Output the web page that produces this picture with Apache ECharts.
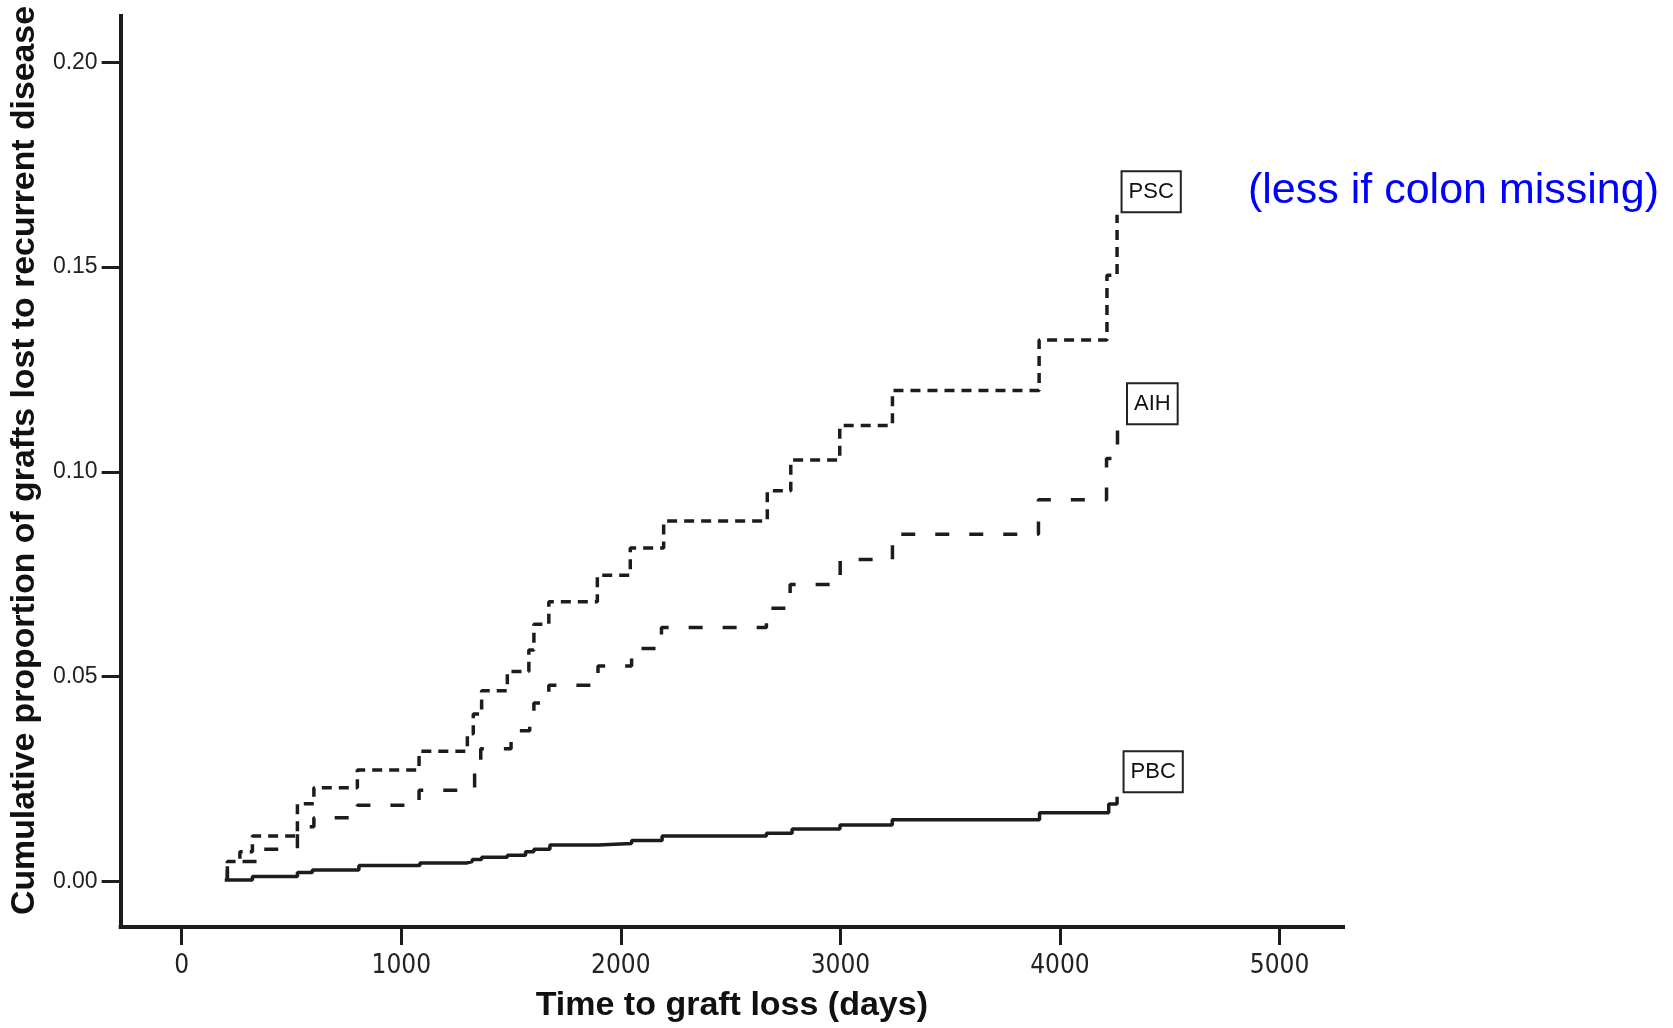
<!DOCTYPE html>
<html>
<head>
<meta charset="utf-8">
<script src="https://cdn.jsdelivr.net/npm/echarts@6/dist/echarts.min.js"></script>
<style>
  html, body { margin: 0; padding: 0; background: #ffffff; }
  #chart { width: 1673px; height: 1028px; }
</style>
</head>
<body>
<div id="chart"></div>
<script>
// Tick positions
const xTicks = [0, 1000, 2000, 3000, 4000, 5000];
const yTicks = [0, 0.05, 0.10, 0.15, 0.20];

// Cumulative proportion of grafts lost, [days, proportion] at each event
const pscData = [
  [208, 0.0003], [208, 0.0049], [265, 0.0073], [322, 0.0111], [527, 0.0190],
  [602, 0.0229], [800, 0.0272], [1081, 0.0318], [1301, 0.0361], [1328, 0.0409],
  [1366, 0.0466], [1483, 0.0513], [1581, 0.0565], [1604, 0.0628], [1672, 0.0683],
  [1893, 0.0748], [2043, 0.0814], [2195, 0.0880], [2667, 0.0954], [2774, 0.1029],
  [2997, 0.1113], [3237, 0.1199], [3905, 0.1322], [4214, 0.1480], [4260, 0.1628]
];
const aihData = [
  [208, 0.0003], [208, 0.0049], [345, 0.0079], [527, 0.0134], [602, 0.0156],
  [800, 0.0186], [1081, 0.0223], [1334, 0.0272], [1362, 0.0324], [1500, 0.0368],
  [1585, 0.0384], [1604, 0.0436], [1672, 0.0479], [1896, 0.0526], [2049, 0.0569],
  [2185, 0.0620], [2663, 0.0667], [2771, 0.0725], [2999, 0.0786], [3237, 0.0848],
  [3902, 0.0932], [4212, 0.1033], [4262, 0.1110]
];
const pbcData = [
  [196, 0.0004], [322, 0.0012], [527, 0.0022], [595, 0.0028], [807, 0.0039],
  [1085, 0.0045], [1296, 0.0049], [1323, 0.0054], [1366, 0.0059], [1483, 0.0064],
  [1566, 0.0073], [1604, 0.0079], [1677, 0.0089], [1897, 0.0093], [2049, 0.0100],
  [2188, 0.0111], [2663, 0.0118], [2780, 0.0128], [2998, 0.0138], [3236, 0.0151],
  [3907, 0.0168], [4222, 0.0189], [4260, 0.0207]
];

const groupNames = ['PSC', 'AIH', 'PBC'];
const xTitle = 'Time to graft loss (days)';
const yTitle = 'Cumulative proportion of grafts lost to recurrent disease';
const noteText = '(less if colon missing)';

const INK = '#1c1c1c';
const SANS = '"Liberation Sans", Arial, Helvetica, sans-serif';
const NARROW = '"Liberation Sans Narrow", "DejaVu Sans Condensed", "Liberation Sans", sans-serif';

function endTag(name, data, dx, dy) {
  const last = data[data.length - 1];
  return {
    symbol: 'rect',
    symbolSize: 1,
    silent: true,
    itemStyle: { color: 'rgba(0,0,0,0)' },
    label: {
      show: true,
      formatter: name,
      position: [dx, dy],
      align: 'left',
      verticalAlign: 'bottom',
      fontFamily: SANS,
      fontSize: 22,
      color: '#111',
      backgroundColor: '#ffffff',
      borderColor: '#222',
      borderWidth: 2,
      padding: [9, 6, 8, 6]
    },
    data: [{ coord: [last[0], last[1]] }]
  };
}

function stepSeries(name, data, dash, tag) {
  return {
    name: name,
    type: 'line',
    step: 'end',
    data: data,
    showSymbol: false,
    symbol: 'none',
    lineStyle: { color: INK, width: 3.5, type: dash, cap: 'butt' },
    markPoint: tag,
    z: 3
  };
}

const chart = echarts.init(document.getElementById('chart'), null, { renderer: 'canvas' });

chart.setOption({
  animation: false,
  backgroundColor: '#ffffff',
  textStyle: { fontFamily: SANS },
  grid: { left: 120, right: 330, top: 16, bottom: 97.5, containLabel: false },
  xAxis: {
    type: 'value',
    min: -278,
    max: 5289,
    name: xTitle,
    nameLocation: 'middle',
    nameGap: 62,
    nameTextStyle: { fontFamily: SANS, fontWeight: 'bold', fontSize: 34, color: '#111' },
    axisLine: { show: true, onZero: false, lineStyle: { color: INK, width: 4, cap: 'square' } },
    axisTick: { show: true, length: 18, customValues: xTicks, lineStyle: { color: INK, width: 3 } },
    axisLabel: {
      customValues: xTicks,
      margin: 26,
      fontFamily: NARROW,
      fontSize: 26,
      color: '#222',
      formatter: v => String(v)
    },
    splitLine: { show: false }
  },
  yAxis: {
    type: 'value',
    min: -0.0111,
    max: 0.2113,
    name: yTitle,
    nameLocation: 'middle',
    nameGap: 75,
    nameRotate: 90,
    nameTextStyle: {
      fontFamily: SANS, fontWeight: 'bold', fontSize: 33.8, color: '#111',
      padding: [0, 0, 0, 22]
    },
    axisLine: { show: true, onZero: false, lineStyle: { color: INK, width: 4, cap: 'square' } },
    axisTick: { show: true, length: 19, customValues: yTicks, lineStyle: { color: INK, width: 3 } },
    axisLabel: {
      customValues: yTicks,
      margin: 23,
      fontFamily: SANS,
      fontSize: 23,
      color: '#222',
      formatter: v => v.toFixed(2)
    },
    splitLine: { show: false }
  },
  series: [
    stepSeries(groupNames[0], pscData, [10, 7], endTag(groupNames[0], pscData, 6, -3)),
    stepSeries(groupNames[1], aihData, [14, 20], endTag(groupNames[1], aihData, 11, -3)),
    stepSeries(groupNames[2], pbcData, 'solid', endTag(groupNames[2], pbcData, 8, -5))
  ],
  graphic: [{
    type: 'text',
    left: 1248,
    top: 170,
    style: {
      text: noteText,
      font: '43px "Liberation Sans", Arial, sans-serif',
      fill: '#0000ff'
    }
  }]
});
</script>
</body>
</html>
